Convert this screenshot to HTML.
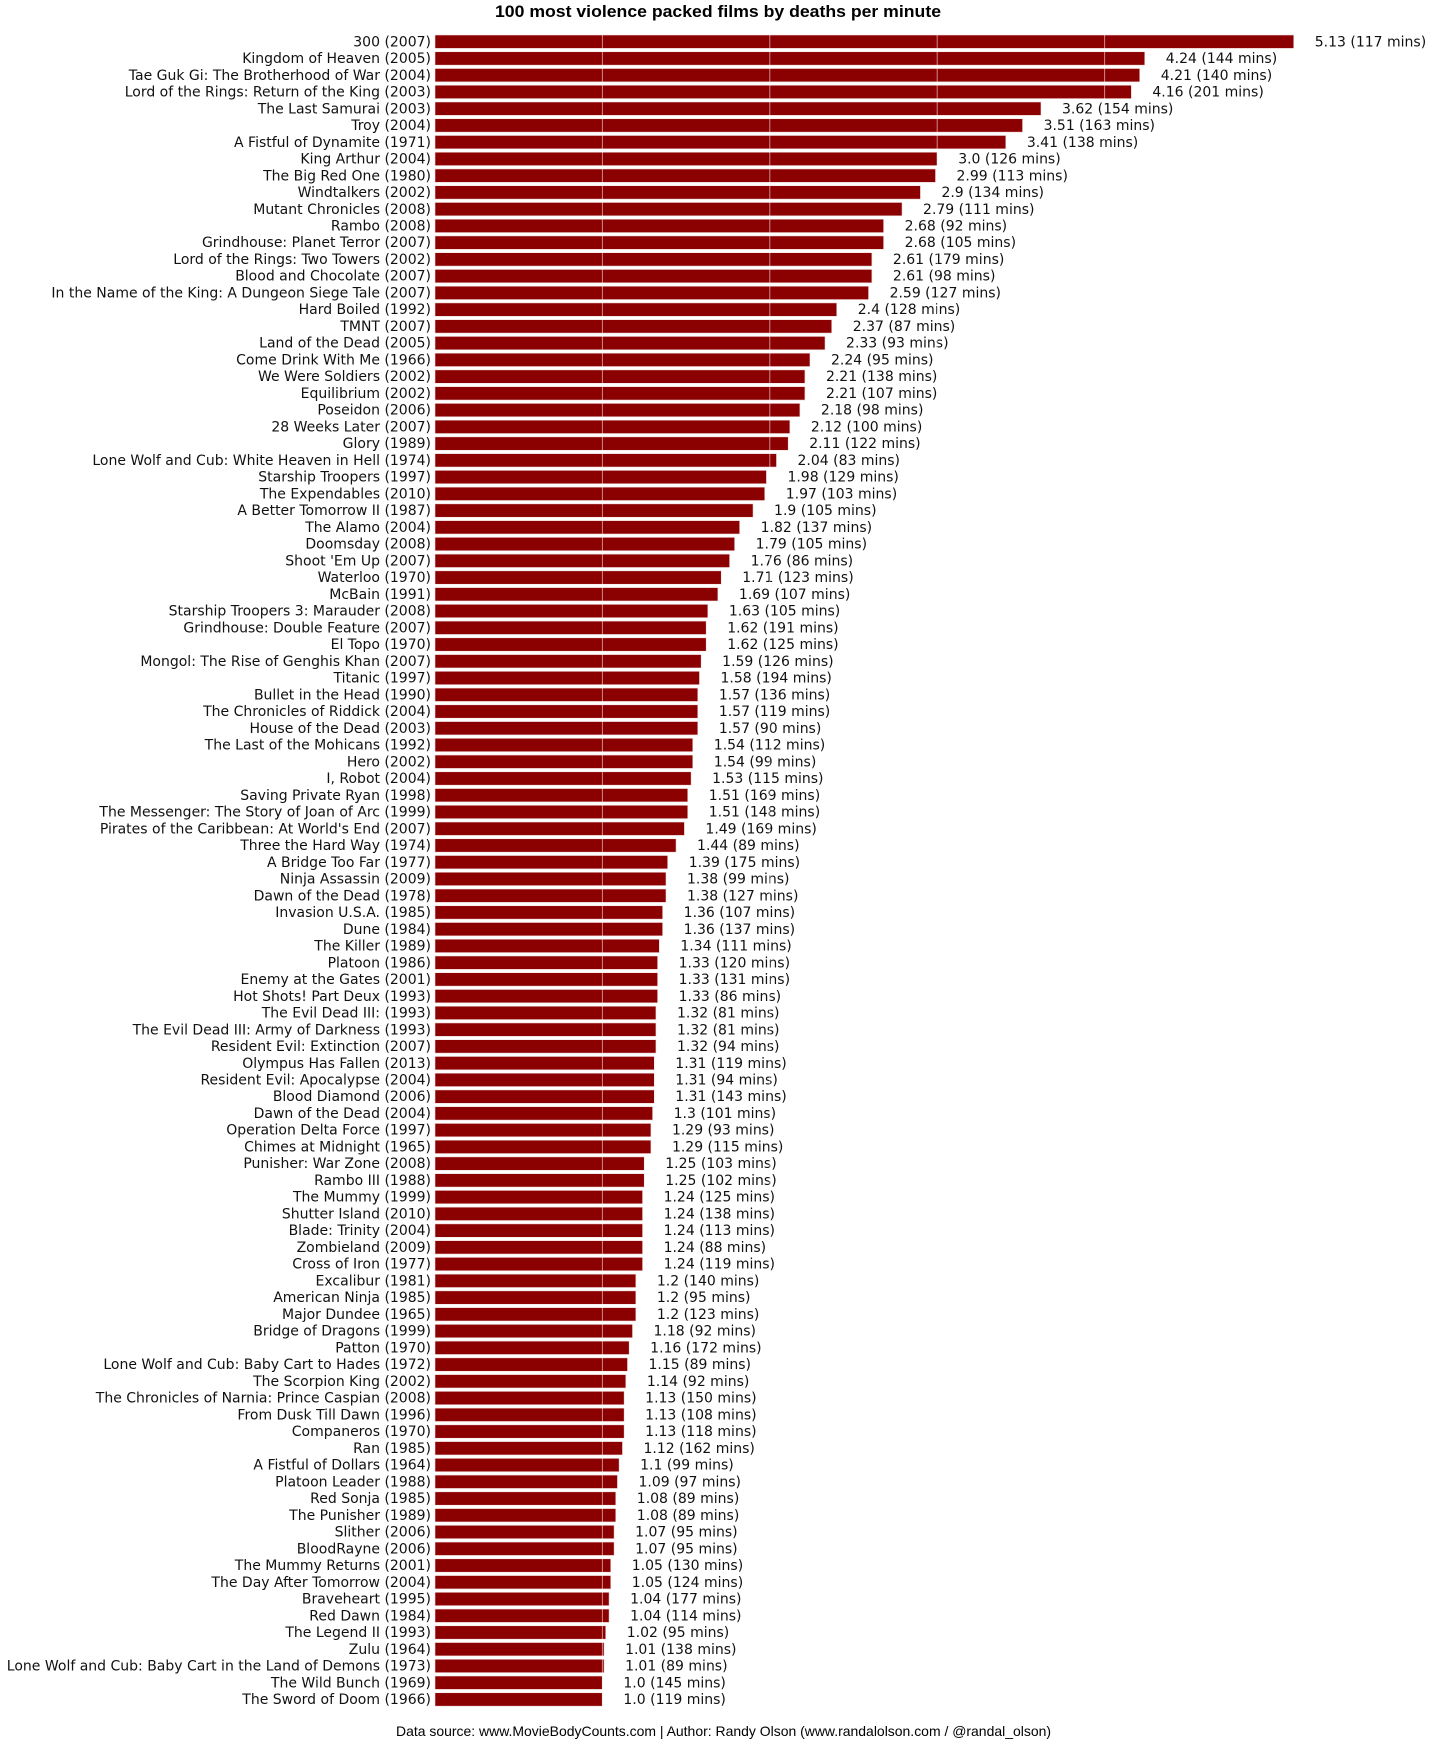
<!DOCTYPE html>
<html><head><meta charset="utf-8"><style>
html,body{margin:0;padding:0;background:#fff}
svg{display:block}
.l{font-family:"DejaVu Sans",sans-serif;font-size:14px;fill:#111}
</style></head><body>
<svg width="1447" height="1756" xmlns="http://www.w3.org/2000/svg" id="s">
<text x="718" y="17" text-anchor="middle" font-family="Liberation Sans, sans-serif" font-weight="bold" font-size="17" textLength="446" lengthAdjust="spacingAndGlyphs">100 most violence packed films by deaths per minute</text>
<g id="g"></g>
<text x="396" y="1736" font-family="Liberation Sans, sans-serif" font-size="14" textLength="655" lengthAdjust="spacingAndGlyphs">Data source: www.MovieBodyCounts.com | Author: Randy Olson (www.randalolson.com / @randal_olson)</text>
</svg>
<script>
var d=[["300 (2007)","5.13",117],["Kingdom of Heaven (2005)","4.24",144],["Tae Guk Gi: The Brotherhood of War (2004)","4.21",140],["Lord of the Rings: Return of the King (2003)","4.16",201],["The Last Samurai (2003)","3.62",154],["Troy (2004)","3.51",163],["A Fistful of Dynamite (1971)","3.41",138],["King Arthur (2004)","3.0",126],["The Big Red One (1980)","2.99",113],["Windtalkers (2002)","2.9",134],["Mutant Chronicles (2008)","2.79",111],["Rambo (2008)","2.68",92],["Grindhouse: Planet Terror (2007)","2.68",105],["Lord of the Rings: Two Towers (2002)","2.61",179],["Blood and Chocolate (2007)","2.61",98],["In the Name of the King: A Dungeon Siege Tale (2007)","2.59",127],["Hard Boiled (1992)","2.4",128],["TMNT (2007)","2.37",87],["Land of the Dead (2005)","2.33",93],["Come Drink With Me (1966)","2.24",95],["We Were Soldiers (2002)","2.21",138],["Equilibrium (2002)","2.21",107],["Poseidon (2006)","2.18",98],["28 Weeks Later (2007)","2.12",100],["Glory (1989)","2.11",122],["Lone Wolf and Cub: White Heaven in Hell (1974)","2.04",83],["Starship Troopers (1997)","1.98",129],["The Expendables (2010)","1.97",103],["A Better Tomorrow II (1987)","1.9",105],["The Alamo (2004)","1.82",137],["Doomsday (2008)","1.79",105],["Shoot 'Em Up (2007)","1.76",86],["Waterloo (1970)","1.71",123],["McBain (1991)","1.69",107],["Starship Troopers 3: Marauder (2008)","1.63",105],["Grindhouse: Double Feature (2007)","1.62",191],["El Topo (1970)","1.62",125],["Mongol: The Rise of Genghis Khan (2007)","1.59",126],["Titanic (1997)","1.58",194],["Bullet in the Head (1990)","1.57",136],["The Chronicles of Riddick (2004)","1.57",119],["House of the Dead (2003)","1.57",90],["The Last of the Mohicans (1992)","1.54",112],["Hero (2002)","1.54",99],["I, Robot (2004)","1.53",115],["Saving Private Ryan (1998)","1.51",169],["The Messenger: The Story of Joan of Arc (1999)","1.51",148],["Pirates of the Caribbean: At World's End (2007)","1.49",169],["Three the Hard Way (1974)","1.44",89],["A Bridge Too Far (1977)","1.39",175],["Ninja Assassin (2009)","1.38",99],["Dawn of the Dead (1978)","1.38",127],["Invasion U.S.A. (1985)","1.36",107],["Dune (1984)","1.36",137],["The Killer (1989)","1.34",111],["Platoon (1986)","1.33",120],["Enemy at the Gates (2001)","1.33",131],["Hot Shots! Part Deux (1993)","1.33",86],["The Evil Dead III: (1993)","1.32",81],["The Evil Dead III: Army of Darkness (1993)","1.32",81],["Resident Evil: Extinction (2007)","1.32",94],["Olympus Has Fallen (2013)","1.31",119],["Resident Evil: Apocalypse (2004)","1.31",94],["Blood Diamond (2006)","1.31",143],["Dawn of the Dead (2004)","1.3",101],["Operation Delta Force (1997)","1.29",93],["Chimes at Midnight (1965)","1.29",115],["Punisher: War Zone (2008)","1.25",103],["Rambo III (1988)","1.25",102],["The Mummy (1999)","1.24",125],["Shutter Island (2010)","1.24",138],["Blade: Trinity (2004)","1.24",113],["Zombieland (2009)","1.24",88],["Cross of Iron (1977)","1.24",119],["Excalibur (1981)","1.2",140],["American Ninja (1985)","1.2",95],["Major Dundee (1965)","1.2",123],["Bridge of Dragons (1999)","1.18",92],["Patton (1970)","1.16",172],["Lone Wolf and Cub: Baby Cart to Hades (1972)","1.15",89],["The Scorpion King (2002)","1.14",92],["The Chronicles of Narnia: Prince Caspian (2008)","1.13",150],["From Dusk Till Dawn (1996)","1.13",108],["Companeros (1970)","1.13",118],["Ran (1985)","1.12",162],["A Fistful of Dollars (1964)","1.1",99],["Platoon Leader (1988)","1.09",97],["Red Sonja (1985)","1.08",89],["The Punisher (1989)","1.08",89],["Slither (2006)","1.07",95],["BloodRayne (2006)","1.07",95],["The Mummy Returns (2001)","1.05",130],["The Day After Tomorrow (2004)","1.05",124],["Braveheart (1995)","1.04",177],["Red Dawn (1984)","1.04",114],["The Legend II (1993)","1.02",95],["Zulu (1964)","1.01",138],["Lone Wolf and Cub: Baby Cart in the Land of Demons (1973)","1.01",89],["The Wild Bunch (1969)","1.0",145],["The Sword of Doom (1966)","1.0",119]];
var x0=435,u=167.4,p=16.745,h=13.4,y0=35,s="";
for(var i=0;i<d.length;i++){var y=y0+i*p,w=parseFloat(d[i][1])*u;
s+='<rect x="'+x0+'" y="'+y.toFixed(2)+'" width="'+w.toFixed(2)+'" height="'+h+'" fill="#8b0000" stroke="#f4dede" stroke-width="0.6"/>';
s+='<text class="l" x="431" y="'+(y+11.3).toFixed(2)+'" text-anchor="end">'+d[i][0].replace(/&/g,"&amp;")+'</text>';
s+='<text class="l" x="'+(x0+w+21).toFixed(2)+'" y="'+(y+11.3).toFixed(2)+'">'+d[i][1]+' ('+d[i][2]+' mins)</text>';}
for(var k=1;k<=4;k++){var gx=x0+k*u;s+='<line x1="'+gx+'" x2="'+gx+'" y1="33" y2="1708" stroke="#fff" stroke-opacity="0.55" stroke-width="1"/>';}
document.getElementById("g").innerHTML=s;
</script>
</body></html>
